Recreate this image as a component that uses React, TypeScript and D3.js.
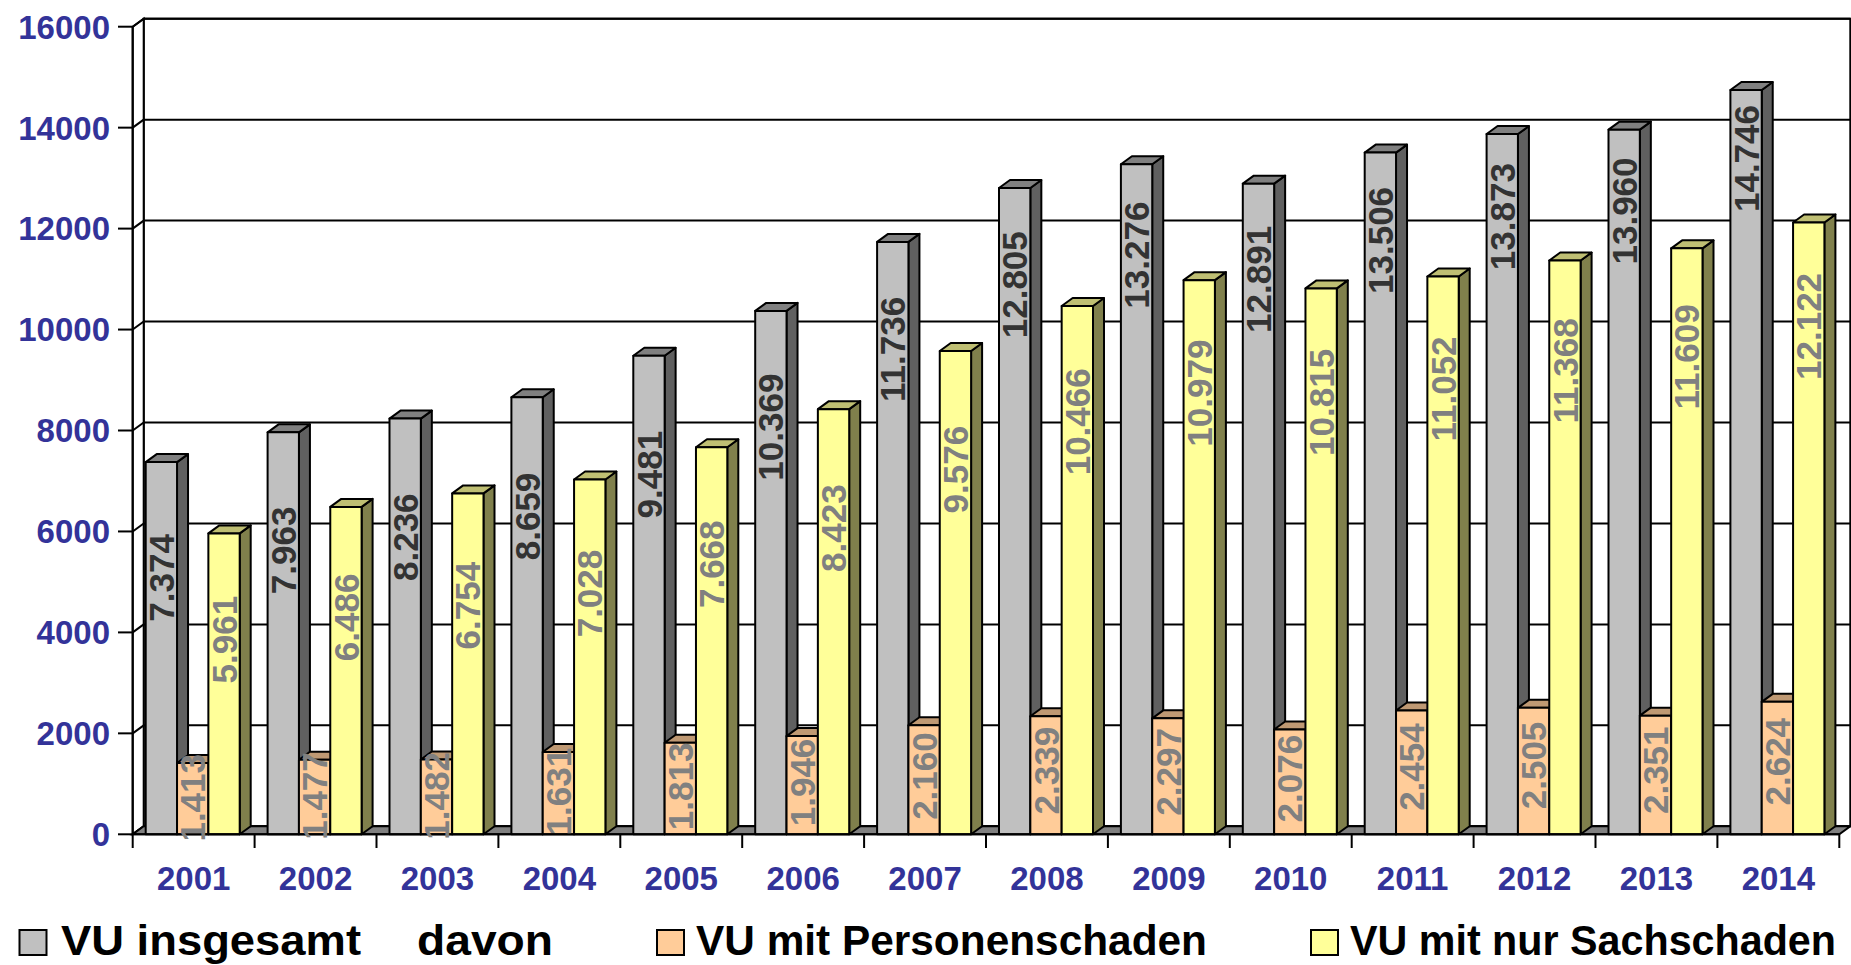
import React, { useEffect } from 'react';
import * as d3 from 'd3';

// ---- data ----
const years = ['2001', '2002', '2003', '2004', '2005', '2006', '2007', '2008', '2009', '2010', '2011', '2012', '2013', '2014'];
const seriesKeys = ['insgesamt', 'personen', 'sach'];
const legendLabels = ['VU insgesamt', 'VU mit Personenschaden', 'VU mit nur Sachschaden'];
const legendExtra = 'davon';
const valuesInsgesamt = [7374, 7963, 8236, 8659, 9481, 10369, 11736, 12805, 13276, 12891, 13506, 13873, 13960, 14746];
const valuesPersonen = [1413, 1477, 1482, 1631, 1813, 1946, 2160, 2339, 2297, 2076, 2454, 2505, 2351, 2624];
const valuesSach = [5961, 6486, 6754, 7028, 7668, 8423, 9576, 10466, 10979, 10815, 11052, 11368, 11609, 12122];
const yTickValues = [0, 2000, 4000, 6000, 8000, 10000, 12000, 14000, 16000];

const W = 1851;
const H = 965;
const FONT = "'Liberation Sans', Arial, Helvetica, sans-serif";

export default function App() {
  useEffect(() => {
    document.body.style.margin = '0';
    document.body.style.overflow = 'hidden';
  }, []);

  const x0 = 132.7, x1 = 1839.3, y0 = 834.3, yTop = 26.7;
  const dx = 11, dy = -8;
  const y = d3.scaleLinear().domain([0, 16000]).range([y0, yTop]);
  const x = d3.scaleBand<string>().domain(years).range([x0, x1]);
  const inner = d3.scaleBand<string>().domain(seriesKeys).range([13, 107]);
  const bw = inner.bandwidth();
  const fmt = d3.formatLocale({ decimal: ',', thousands: '.', grouping: [3], currency: ['', '€'] }).format(',');

  const series = [
    { key: 'insgesamt', values: valuesInsgesamt, front: '#C0C0C0', top: '#808080', side: '#606060', label: '#333333' },
    { key: 'personen', values: valuesPersonen, front: '#FFCC99', top: '#BF9973', side: '#806650', label: '#808080' },
    { key: 'sach', values: valuesSach, front: '#FFFF99', top: '#BFBF73', side: '#80804C', label: '#808080' },
  ];

  const pts = (p: number[][]) => p.map((q) => q.join(',')).join(' ');

  const bars: JSX.Element[] = [];
  const labels: JSX.Element[] = [];
  years.forEach((yr, i) => {
    series.forEach((s) => {
      const v = s.values[i];
      const xl = (x(yr) as number) + (inner(s.key) as number);
      const xr = xl + bw;
      const yt = y(v);
      bars.push(
        <g key={`${yr}-${s.key}`} stroke="#000" strokeWidth={2} strokeLinejoin="round">
          <polygon points={pts([[xr, yt], [xr + dx, yt + dy], [xr + dx, y0 + dy], [xr, y0]])} fill={s.side} />
          <polygon points={pts([[xl, yt], [xr, yt], [xr + dx, yt + dy], [xl + dx, yt + dy]])} fill={s.top} />
          <rect x={xl} y={yt} width={bw} height={y0 - yt} fill={s.front} />
        </g>
      );
      const hBar = y0 - yt;
      const cy = y0 - hBar * (0.47 + 0.0000297 * v);
      const cx = xl + bw / 2;
      labels.push(
        <text
          key={`l-${yr}-${s.key}`}
          transform={`translate(${cx},${cy}) rotate(-90)`}
          textAnchor="middle"
          dy="0.36em"
          fill={s.label}
          fontFamily={FONT}
          fontWeight="bold"
          fontSize={35}
        >
          {fmt(v)}
        </text>
      );
    });
  });

  const bandW = x.bandwidth();
  const catTicks = d3.range(years.length + 1).map((i) => x0 + i * bandW);

  return (
    <svg width={W} height={H} style={{ position: 'absolute', left: 0, top: 0, background: '#fff' }}>
      <defs>
        <clipPath id="lblclip">
          <rect x={0} y={0} width={W} height={847} />
        </clipPath>
      </defs>
      <rect x={0} y={0} width={W} height={H} fill="#fff" />
      {/* back wall */}
      <rect x={x0 + dx} y={yTop + dy} width={x1 - x0} height={y0 - yTop} fill="#fff" stroke="#000" strokeWidth={2} />
      {/* side wall */}
      <polygon points={pts([[x0, yTop], [x0 + dx, yTop + dy], [x0 + dx, y0 + dy], [x0, y0]])} fill="#fff" stroke="#000" strokeWidth={2} />
      {/* gridlines */}
      {yTickValues.map((t) => (
        <g key={`g${t}`} stroke="#000" strokeWidth={2}>
          <line x1={x0 + dx} x2={x1 + dx} y1={y(t) + dy} y2={y(t) + dy} />
          <line x1={x0} x2={x0 + dx} y1={y(t)} y2={y(t) + dy} />
          <line x1={118} x2={x0} y1={y(t)} y2={y(t)} />
        </g>
      ))}
      {/* floor */}
      <polygon points={pts([[x0, y0], [x1, y0], [x1 + dx, y0 + dy], [x0 + dx, y0 + dy]])} fill="#808080" stroke="#000" strokeWidth={2} />
      {/* front y axis line */}
      <line x1={x0} x2={x0} y1={yTop} y2={y0} stroke="#000" strokeWidth={2} />
      {/* category ticks */}
      {catTicks.map((cx, i) => (
        <line key={`ct${i}`} x1={cx} x2={cx} y1={y0} y2={848} stroke="#000" strokeWidth={2} />
      ))}
      {bars}
      <line x1={x0} x2={x1} y1={y0} y2={y0} stroke="#000" strokeWidth={2} />
      <g clipPath="url(#lblclip)">{labels}</g>
      {/* y tick labels */}
      {yTickValues.map((t) => (
        <text key={`yt${t}`} x={110} y={y(t)} dy="0.36em" textAnchor="end" fill="#333399" fontFamily={FONT} fontWeight="bold" fontSize={33}>
          {String(t)}
        </text>
      ))}
      {/* x labels */}
      {years.map((yr) => (
        <text key={`xl${yr}`} x={(x(yr) as number) + bandW / 2} y={890} textAnchor="middle" fill="#333399" fontFamily={FONT} fontWeight="bold" fontSize={33}>
          {yr}
        </text>
      ))}
      {/* legend */}
      <g fontFamily={FONT} fontWeight="bold" fontSize={42} fill="#000">
        <rect x={19.5} y={930} width={27} height={25} fill={series[0].front} stroke="#000" strokeWidth={2} />
        <text x={61} y={955} textLength={300} lengthAdjust="spacingAndGlyphs">{legendLabels[0]}</text>
        <text x={417} y={955} textLength={136} lengthAdjust="spacingAndGlyphs">{legendExtra}</text>
        <rect x={657} y={930} width={27} height={25} fill={series[1].front} stroke="#000" strokeWidth={2} />
        <text x={696} y={955} textLength={511} lengthAdjust="spacingAndGlyphs">{legendLabels[1]}</text>
        <rect x={1311} y={930} width={27} height={25} fill={series[2].front} stroke="#000" strokeWidth={2} />
        <text x={1350} y={955} textLength={486} lengthAdjust="spacingAndGlyphs">{legendLabels[2]}</text>
      </g>
    </svg>
  );
}
